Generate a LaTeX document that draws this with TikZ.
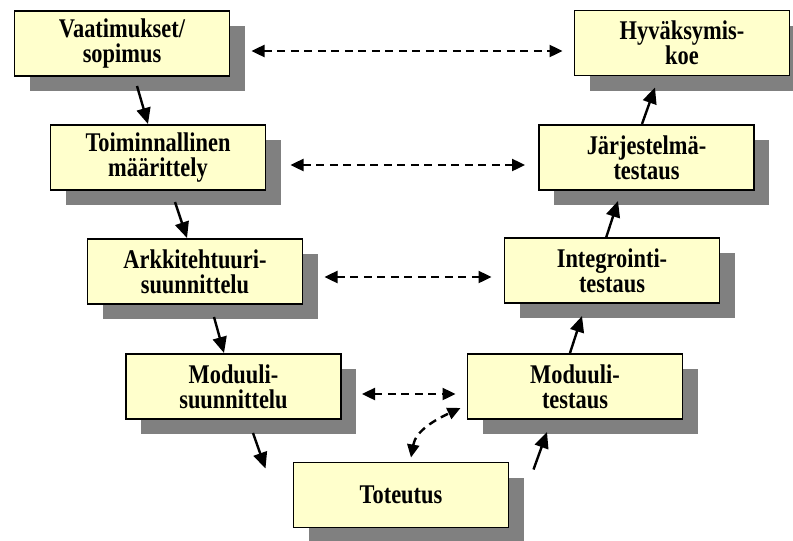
\documentclass[tikz,border=0pt]{standalone}
\usepackage{fontspec}
\setmainfont{Liberation Serif}[FakeStretch=0.83]
\usetikzlibrary{arrows.meta,shadows,calc}
\definecolor{boxfill}{HTML}{FFFFCC}
\definecolor{shadowgray}{HTML}{808080}
\tikzset{
  box/.style={draw=black, line width=1.8pt, fill=boxfill, minimum width=215pt,
    minimum height=65pt, align=center, inner sep=0pt, outer sep=0pt,
    font=\fontsize{27}{25}\selectfont\bfseries,
    drop shadow={shadow xshift=15pt, shadow yshift=-15pt, opacity=1, fill=shadowgray}},
  flow/.style={line width=2.4pt, -{Triangle[length=16pt,width=14pt]}},
  link/.style={line width=2.4pt, dash pattern=on 8pt off 5.5pt,
    {Triangle[length=13pt,width=12pt]}-{Triangle[length=13pt,width=12pt]}}
}
\begin{document}
\begin{tikzpicture}[x=1pt,y=-1pt]
\useasboundingbox (0,0) rectangle (793,541);
\node[box] (vaat) at (122,43.5) {Vaatimukset/\\sopimus};
\node[box] (hyv)  at (682,43)   {Hyväksymis-\\koe};
\node[box] (toim) at (158,157.5) {Toiminnallinen\\määrittely};
\node[box] (jarj) at (646.5,157.5) {Järjestelmä-\\testaus};
\node[box] (ark)  at (195,271.5) {Arkkitehtuuri-\\suunnittelu};
\node[box] (int)  at (612,270.5) {Integrointi-\\testaus};
\node[box] (mods) at (233.5,386.5) {Moduuli-\\suunnittelu};
\node[box] (modt) at (575,386.5) {Moduuli-\\testaus};
\node[box] (tot)  at (401,495) {Toteutus};

% solid flow arrows
\draw[flow] ($(vaat.south)+(15,10)$) -- ($(toim.north)+(-10,-1)$);
\draw[flow] ($(toim.south)+(17,12)$) -- ($(ark.north)+(-8,-1)$);
\draw[flow] ($(ark.south)+(19,13)$) -- ($(mods.north)+(-9.5,-1)$);
\draw[flow] ($(mods.south)+(19.5,14)$) -- ($(tot.north west)+(-28,6)$);
\draw[flow] ($(tot.north east)+(25,7)$) -- ($(modt.south)+(-28,13)$);
\draw[flow] ($(modt.north)+(-5,-1)$) -- ($(int.south)+(-30,13)$);
\draw[flow] ($(int.north)+(-6,0)$) -- ($(jarj.south)+(-28.5,11)$);
\draw[flow] ($(jarj.north)+(-4.5,-1)$) -- ($(hyv.south)+(-27,12)$);

% dashed correspondences
\draw[link] ($(vaat.east)+(22,7.5)$) -- ($(hyv.west)+(-12,8)$);
\draw[link] ($(toim.east)+(25,7.5)$) -- ($(jarj.west)+(-14,7.5)$);
\draw[link] ($(ark.east)+(22,5.5)$) -- ($(int.west)+(-13,6.5)$);
\draw[link] ($(mods.east)+(21,7.5)$) -- ($(modt.west)+(-12,7.5)$);
\draw[link] ($(tot.north)+(10,-5)$) to[out=80,in=205] ($(modt.west)+(-7,21.5)$);
\end{tikzpicture}
\end{document}
